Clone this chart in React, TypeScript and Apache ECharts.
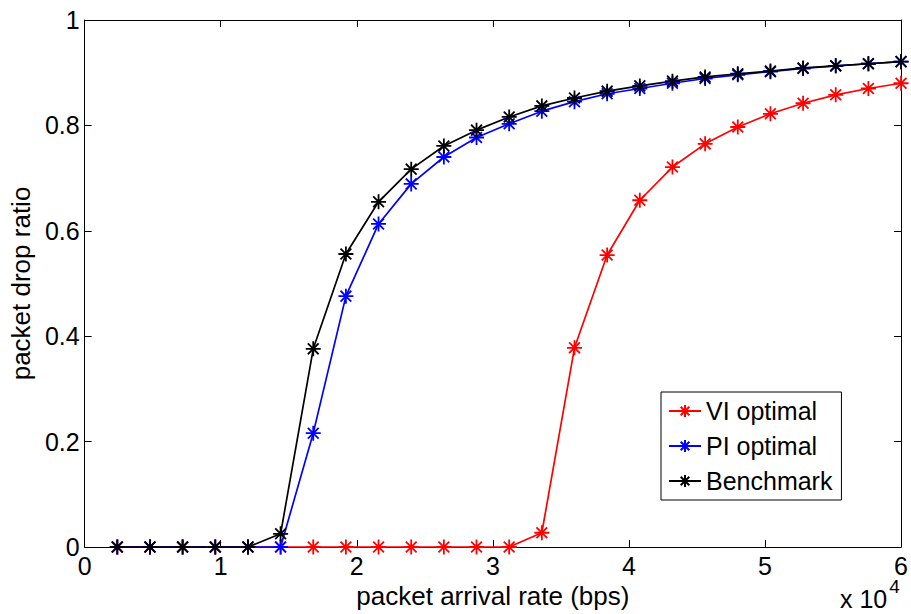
import React, { useEffect, useRef } from "react";
import * as echarts from "echarts";

const xValues = [0.24, 0.48, 0.72, 0.96, 1.2, 1.44, 1.68, 1.92, 2.16, 2.4, 2.64, 2.88, 3.12, 3.36, 3.6, 3.84, 4.08, 4.32, 4.56, 4.8, 5.04, 5.28, 5.52, 5.76, 6.0];
const viOptimal = [0, 0, 0, 0, 0, 0, 0, 0, 0, 0, 0, 0, 0, 0.027, 0.378, 0.554, 0.658, 0.721, 0.765, 0.797, 0.822, 0.842, 0.858, 0.870, 0.880];
const piOptimal = [0, 0, 0, 0, 0, 0, 0.216, 0.476, 0.613, 0.689, 0.740, 0.777, 0.803, 0.827, 0.845, 0.860, 0.870, 0.880, 0.889, 0.896, 0.902, 0.908, 0.913, 0.917, 0.921];
const benchmark = [0, 0, 0, 0, 0, 0.025, 0.376, 0.556, 0.655, 0.717, 0.761, 0.791, 0.816, 0.837, 0.852, 0.865, 0.875, 0.884, 0.892, 0.898, 0.903, 0.909, 0.913, 0.917, 0.921];
const seriesNames = ["VI optimal", "PI optimal", "Benchmark"];
const seriesColors = ["#ff0000", "#0000ff", "#000000"];
const xTickLabels = ["0", "1", "2", "3", "4", "5", "6"];

const FONT = "Liberation Sans, Arial, Helvetica, sans-serif";
const STAR = "path://M0,-1L0,1M-1,0L1,0M-0.72,-0.72L0.72,0.72M-0.72,0.72L0.72,-0.72";

export default function App() {
  const ref = useRef<HTMLDivElement>(null);
  useEffect(() => {
    if (!ref.current) return;
    const chart = echarts.init(ref.current, null, { renderer: "svg" });
    const allData = [viOptimal, piOptimal, benchmark];
    const tickCommon = { show: true, inside: true, length: 7, lineStyle: { color: "#000", width: 1 } };
    const option: any = {
      animation: false,
      backgroundColor: "#fff",
      grid: { left: 83, right: 4, top: 20, bottom: 67 },
      legend: {
        left: 661,
        top: 392,
        orient: "vertical",
        data: seriesNames,
        borderColor: "#000",
        borderWidth: 1,
        padding: [4, 9, 4, 7],
        itemWidth: 32,
        itemHeight: 15,
        itemGap: 5,
        backgroundColor: "#fff",
        textStyle: { fontFamily: FONT, fontSize: 25, color: "#000", lineHeight: 30 },
      },
      xAxis: [
        {
          type: "value",
          min: 0,
          max: 6,
          interval: 1,
          position: "bottom",
          name: "packet arrival rate (bps)",
          nameLocation: "middle",
          nameGap: 29,
          nameTextStyle: { fontFamily: FONT, fontSize: 26, color: "#000" },
          axisLine: { show: true, lineStyle: { color: "#000", width: 1 } },
          axisTick: tickCommon,
          splitLine: { show: false },
          axisLabel: {
            fontFamily: FONT,
            fontSize: 25,
            color: "#000",
            margin: 6,
            formatter: (v: number) => xTickLabels[Math.round(v)] ?? String(v),
          },
        },
        {
          type: "value",
          min: 0,
          max: 6,
          interval: 1,
          position: "top",
          axisLine: { show: true, onZero: false, lineStyle: { color: "#000", width: 1 } },
          axisTick: tickCommon,
          splitLine: { show: false },
          axisLabel: { show: false },
        },
      ],
      yAxis: [
        {
          type: "value",
          min: 0,
          max: 1,
          interval: 0.2,
          position: "left",
          name: "packet drop ratio",
          nameLocation: "middle",
          nameGap: 42,
          nameRotate: 90,
          nameTextStyle: { fontFamily: FONT, fontSize: 26, color: "#000" },
          axisLine: { show: true, lineStyle: { color: "#000", width: 1 } },
          axisTick: tickCommon,
          splitLine: { show: false },
          axisLabel: { fontFamily: FONT, fontSize: 25, color: "#000", margin: 5 },
        },
        {
          type: "value",
          min: 0,
          max: 1,
          interval: 0.2,
          position: "right",
          axisLine: { show: true, onZero: false, lineStyle: { color: "#000", width: 1 } },
          axisTick: tickCommon,
          splitLine: { show: false },
          axisLabel: { show: false },
        },
      ],
      graphic: [
        {
          type: "text",
          left: 840,
          top: 577,
          style: {
            text: "{b|x 10}{s|4}",
            rich: {
              b: { fontFamily: FONT, fontSize: 25, fill: "#000", verticalAlign: "bottom", lineHeight: 34 },
              s: { fontFamily: FONT, fontSize: 19, fill: "#000", verticalAlign: "top", lineHeight: 34, padding: [0, 0, 14, 2] },
            },
          },
        },
      ],
      series: seriesNames.map((name, i) => ({
        name,
        type: "line",
        xAxisIndex: 0,
        yAxisIndex: 0,
        data: xValues.map((x, j) => [x, allData[i][j]]),
        symbol: STAR,
        symbolSize: 15,
        showAllSymbol: true,
        clip: false,
        lineStyle: { color: seriesColors[i], width: 1.7 },
        itemStyle: { color: seriesColors[i], borderColor: seriesColors[i], borderWidth: 1.8 },
        emphasis: { disabled: true },
      })),
    };
    chart.setOption(option);
    return () => chart.dispose();
  }, []);
  return <div ref={ref} style={{ width: 911, height: 614, position: "absolute", left: 0, top: 0 }} />;
}
